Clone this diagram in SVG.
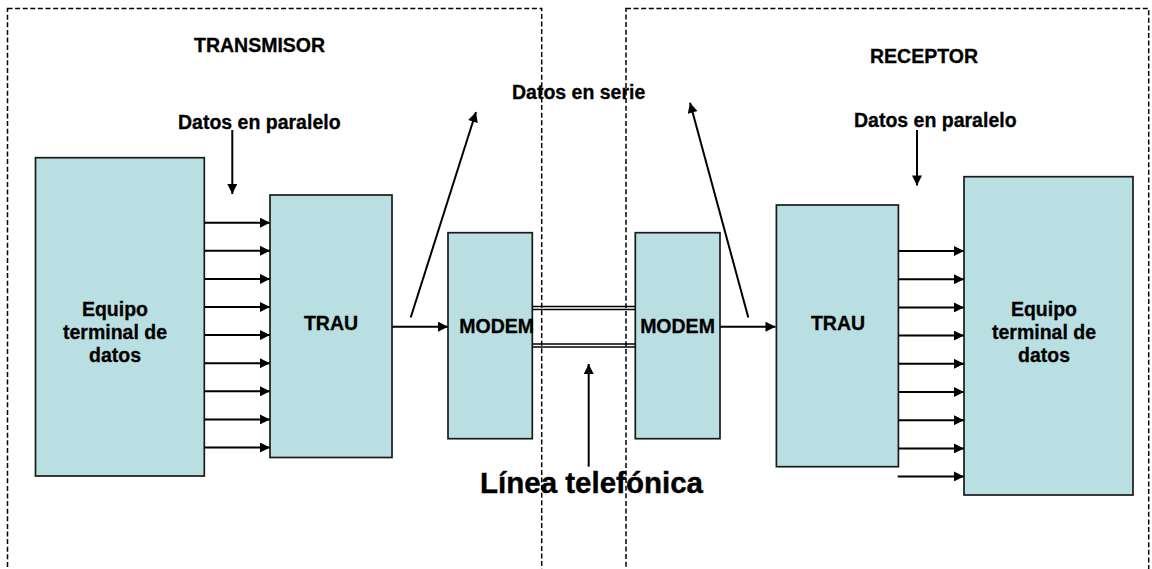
<svg xmlns="http://www.w3.org/2000/svg" width="1152" height="569" viewBox="0 0 1152 569">
  <style>
    .region { fill: none; stroke: #000; stroke-width: 1.5; stroke-dasharray: 5 2.6; }
    .box { fill: #BADFE2; stroke: #1a1a1a; stroke-width: 1.7; }
    .lbl { font-family: "Liberation Sans", Arial, sans-serif; font-weight: bold; font-size: 19.5px; fill: #000; stroke: #000; stroke-width: 0.3; }
    .big { font-family: "Liberation Sans", Arial, sans-serif; font-weight: bold; font-size: 29.5px; fill: #000; stroke: #000; stroke-width: 0.4; }
    .mid { text-anchor: middle; }
    .arr { fill: none; stroke: #000; stroke-width: 2; marker-end: url(#ah); }
    .wire { fill: none; stroke: #000; stroke-width: 1.5; }
  </style>
  <defs>
    <marker id="ah" markerUnits="userSpaceOnUse" viewBox="0 0 10 10" refX="10" refY="5" markerWidth="11" markerHeight="10" orient="auto">
      <path d="M0,0 L10,5 L0,10 Z" fill="#000"/>
    </marker>
  </defs>

  <g id="region-transmisor">
    <rect class="region" x="7.5" y="8.5" width="534.2" height="600"/>
  </g>
  <g id="region-receptor">
    <rect class="region" x="626" y="8.5" width="522.7" height="600"/>
  </g>

  <g id="label-transmisor"><text class="lbl" x="194" y="52">TRANSMISOR</text></g>
  <g id="label-receptor"><text class="lbl" x="870" y="63">RECEPTOR</text></g>
  <g id="label-paralelo-tx"><text class="lbl" x="178" y="128.5">Datos en paralelo</text></g>
  <g id="label-paralelo-rx"><text class="lbl" x="854" y="126.5">Datos en paralelo</text></g>
  <g id="label-serie"><text class="lbl" x="512" y="99">Datos en serie</text></g>
  <g id="label-linea"><text class="big" x="480" y="493.3">Línea telefónica</text></g>

  <g id="node-equipo-tx">
    <rect class="box" x="35.5" y="157.7" width="168.8" height="318.3"/>
    <text class="lbl mid" x="115" y="315.5">Equipo</text>
    <text class="lbl mid" x="115" y="338.5">terminal de</text>
    <text class="lbl mid" x="115" y="362">datos</text>
  </g>
  <g id="node-trau-tx">
    <rect class="box" x="270" y="195" width="122" height="262.5"/>
    <text class="lbl mid" x="331" y="330">TRAU</text>
  </g>
  <g id="node-modem-tx">
    <rect class="box" x="448" y="232.7" width="84.3" height="206"/>
    <text class="lbl" x="459.3" y="332.7">MODEM</text>
  </g>
  <g id="node-modem-rx">
    <rect class="box" x="635.3" y="232.7" width="84.7" height="206"/>
    <text class="lbl mid" x="677.5" y="332.7">MODEM</text>
  </g>
  <g id="node-trau-rx">
    <rect class="box" x="776.4" y="205" width="122" height="261.7"/>
    <text class="lbl mid" x="838" y="330">TRAU</text>
  </g>
  <g id="node-equipo-rx">
    <rect class="box" x="964" y="176.7" width="169" height="318.3"/>
    <text class="lbl mid" x="1044" y="315.5">Equipo</text>
    <text class="lbl mid" x="1044" y="338.5">terminal de</text>
    <text class="lbl mid" x="1044" y="362">datos</text>
  </g>

  <g id="connectors">
    <line class="arr" x1="204.3" y1="222.7" x2="270" y2="222.7"/>
    <line class="arr" x1="204.3" y1="250.8" x2="270" y2="250.8"/>
    <line class="arr" x1="204.3" y1="278.9" x2="270" y2="278.9"/>
    <line class="arr" x1="204.3" y1="307" x2="270" y2="307"/>
    <line class="arr" x1="204.3" y1="335.1" x2="270" y2="335.1"/>
    <line class="arr" x1="204.3" y1="363.2" x2="270" y2="363.2"/>
    <line class="arr" x1="204.3" y1="391.3" x2="270" y2="391.3"/>
    <line class="arr" x1="204.3" y1="419.4" x2="270" y2="419.4"/>
    <line class="arr" x1="204.3" y1="447.5" x2="270" y2="447.5"/>
    <line class="arr" x1="898.4" y1="251" x2="964" y2="251"/>
    <line class="arr" x1="898.4" y1="279.2" x2="964" y2="279.2"/>
    <line class="arr" x1="898.4" y1="307.4" x2="964" y2="307.4"/>
    <line class="arr" x1="898.4" y1="335.6" x2="964" y2="335.6"/>
    <line class="arr" x1="898.4" y1="363.8" x2="964" y2="363.8"/>
    <line class="arr" x1="898.4" y1="392" x2="964" y2="392"/>
    <line class="arr" x1="898.4" y1="420.2" x2="964" y2="420.2"/>
    <line class="arr" x1="898.4" y1="448.4" x2="964" y2="448.4"/>
    <line class="arr" x1="897.7" y1="476.4" x2="964" y2="476.4"/>
    <line class="arr" x1="392" y1="326.7" x2="448" y2="326.7"/>
    <line class="arr" x1="720" y1="326.7" x2="775.5" y2="326.7"/>
    <line class="wire" x1="532.3" y1="306.5" x2="635.3" y2="306.5"/>
    <line class="wire" x1="532.3" y1="309.5" x2="635.3" y2="309.5"/>
    <line class="wire" x1="532.3" y1="344" x2="635.3" y2="344"/>
    <line class="wire" x1="532.3" y1="347" x2="635.3" y2="347"/>
    <line class="arr" x1="232.3" y1="130" x2="232.3" y2="194"/>
    <line class="arr" x1="917" y1="130" x2="917" y2="185.5"/>
    <line class="arr" x1="410.7" y1="317.5" x2="476" y2="112"/>
    <line class="arr" x1="748.3" y1="317.5" x2="690" y2="102.7"/>
    <line class="arr" x1="588.7" y1="466.7" x2="588.7" y2="364"/>
  </g>
</svg>
